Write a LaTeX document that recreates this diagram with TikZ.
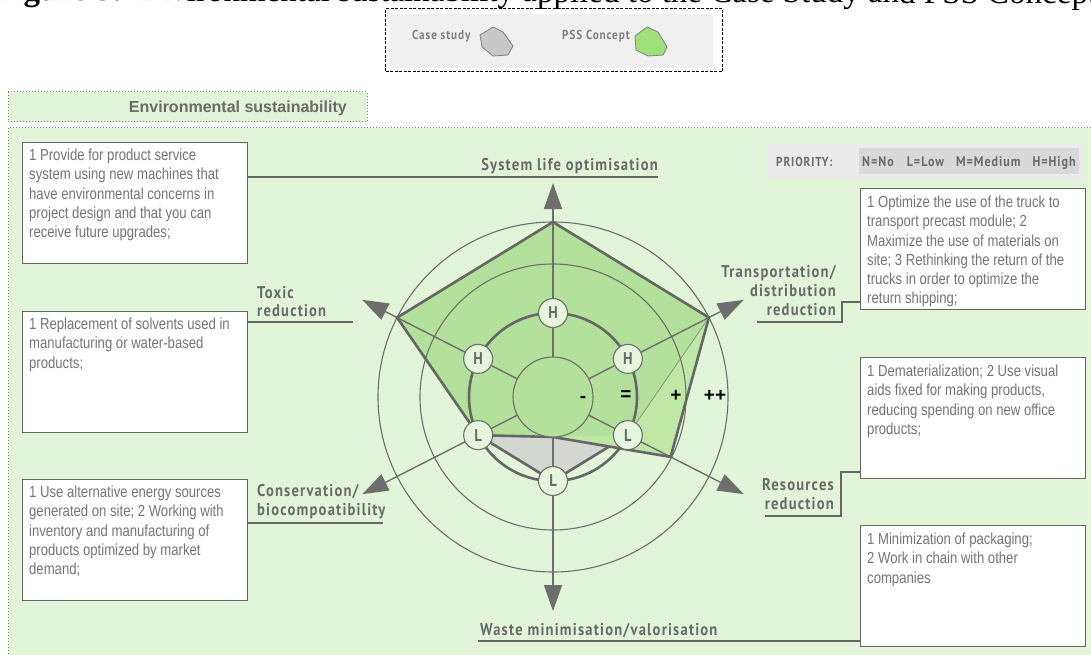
\documentclass[tikz,border=0pt]{standalone}
\usepackage{fontspec}
\setmainfont{Liberation Sans}
\newfontfamily\boxfont[FakeStretch=0.82]{Liberation Sans}
\newfontfamily\tabfont{Liberation Sans}
\newfontfamily\lblfont[FakeStretch=0.86,LetterSpace=7]{PT Sans Bold}
\newfontfamily\capfont{Liberation Serif}
\usetikzlibrary{arrows.meta}
\definecolor{bgg}{HTML}{E3F5D8}
\definecolor{pssd}{HTML}{B3E09A}
\definecolor{pssl}{HTML}{BFE8A7}
\definecolor{csg}{HTML}{D3D6D1}
\definecolor{lineg}{HTML}{666666}
\definecolor{thing}{HTML}{6E6E6E}
\definecolor{txtg}{HTML}{757575}
\definecolor{lblg}{HTML}{6A6A6A}
\definecolor{nodef}{HTML}{E6F6DC}
\definecolor{legf}{HTML}{F0F0F0}
\definecolor{prio1}{HTML}{EBEBEB}
\definecolor{prio2}{HTML}{D9D9D9}
\definecolor{legg}{HTML}{9EE07A}
\definecolor{legc}{HTML}{C8C8C8}
\tikzset{
  tbox/.style={draw=lineg, line width=1.2pt, fill=white, minimum width=225pt, minimum height=121pt, anchor=north west, inner sep=0pt},
  btext/.style={anchor=north west, align=left, inner sep=0pt, font=\boxfont\fontsize{16}{19.2}\selectfont, text=txtg},
  lbl/.style={font=\lblfont\fontsize{17}{19}\selectfont, text=lblg, inner sep=0pt},
  lead/.style={draw=lineg, line width=1.2pt},
  axisline/.style={draw=thing, line width=1.4pt, -{Triangle[length=26pt,width=18pt]}},
  ring/.style={draw=thing, line width=1.1pt},
  poly/.style={draw=lineg, line width=2.6pt, line join=round},
  lev/.style={circle, draw=thing, line width=1.1pt, fill=nodef, minimum size=29pt, inner sep=0pt, font=\lblfont\fontsize{17}{17}\selectfont, text=lblg},
  sym/.style={font=\bfseries\fontsize{19}{19}\selectfont, text=black, inner sep=0pt},
  dots/.style={draw=gray, line width=1pt, dash pattern=on 1pt off 2pt}
}
\begin{document}
\begin{tikzpicture}[x=1pt,y=-1pt]
\useasboundingbox (0,0) rectangle (1091,655);
\clip (0,0) rectangle (1091,655);
\fill[white] (0,0) rectangle (1091,655);
% caption (clipped at the top edge)
\node[anchor=base west, inner sep=0pt, rotate=-0.16, font=\capfont\fontsize{33}{36}\selectfont] (cap) at (-6,0.5) {\textbf{Figure 5:} Environmental sustainability applied to the Case Study and PSS Concept};
% legend
\node[draw=black, line width=1.3pt, dash pattern=on 3pt off 1.5pt, fill=white, minimum width=337pt, minimum height=63pt, anchor=north west, inner sep=0pt] (legend) at (385,8) {};
\fill[legf] (390,14) rectangle (713,68);
\node[lbl, font=\lblfont\fontsize{13}{14}\selectfont, text=gray, anchor=base west] (lcase) at (412,40) {Case study};
\draw[fill=legc, draw=gray, line width=0.8pt] (480,35) -- (493,27) -- (503,32) -- (513,46) -- (508,55) -- (493,56) -- (482,47) -- cycle;
\node[lbl, font=\lblfont\fontsize{13}{14}\selectfont, text=gray, anchor=base west] (lpss) at (562,40) {PSS Concept};
\draw[fill=legg, draw=gray, line width=0.8pt] (635,36) -- (647,27) -- (658,32) -- (667,47) -- (663,55) -- (648,56) -- (636,50) -- cycle;
% tab and panel
\fill[bgg] (8,92) rectangle (367,122);
\draw[dots] (8,92) rectangle (367,122);
\node[anchor=base east, inner sep=0pt, font=\tabfont\bfseries\fontsize{16}{16}\selectfont, text=lblg] (tab) at (347,113) {Environmental sustainability};
\fill[bgg] (8,128) rectangle (1095,660);
\draw[dots] (8,660) -- (8,128) -- (1095,128);
% boxes
\node[tbox] (b1) at (22,142) {};
\node[btext] (t1) at (29,149) {1 Provide for product service\\system using new machines that\\have environmental concerns in\\project design and that you can\\receive future upgrades;};
\node[tbox] (b2) at (22,311) {};
\node[btext] (t2) at (29,318) {1 Replacement of solvents used in\\manufacturing or water-based\\products;};
\node[tbox] (b3) at (22,479) {};
\node[btext] (t3) at (29,486) {1 Use alternative energy sources\\generated on site; 2 Working with\\inventory and manufacturing of\\products optimized by market\\demand;};
\node[tbox] (r1) at (860,188) {};
\node[btext] (tr1) at (867,196) {1 Optimize the use of the truck to\\transport precast module; 2\\Maximize the use of materials on\\site; 3 Rethinking the return of the\\trucks in order to optimize the\\return shipping;};
\node[tbox] (r2) at (860,357) {};
\node[btext] (tr2) at (867,365) {1 Dematerialization; 2 Use visual\\aids fixed for making products,\\reducing spending on new office\\products;};
\node[tbox] (r3) at (860,525) {};
\node[btext] (tr3) at (867,533) {1 Minimization of packaging;\\2 Work in chain with other\\companies};
% priority
\fill[prio1] (767,143) rectangle (1083,179);
\fill[prio2] (859,148) rectangle (1079,174);
\node[lbl, font=\lblfont\fontsize{13}{14}\selectfont, anchor=base west] (prio) at (776,167) {PRIORITY:};
\node[lbl, font=\lblfont\fontsize{14}{14}\selectfont, anchor=base west] (prioval) at (862,167) {N=No\hspace{13pt}L=Low\hspace{12pt}M=Medium\hspace{12pt}H=High};
% leader coordinates
\coordinate (sl) at (658,177);
\coordinate (tx) at (353,322);
\coordinate (cn) at (383,523);
\coordinate (tr) at (757,322);
\coordinate (trj) at (842,302);
\coordinate (rs) at (765,516);
\coordinate (rsj) at (841,472);
\coordinate (ws) at (478,641);
\draw[lead] (b1.east |- sl) -- (sl);
\draw[lead] (b2.east |- tx) -- (tx);
\draw[lead] (b3.east |- cn) -- (cn);
\draw[lead] (tr) -| (trj) -- (r1.west |- trj);
\draw[lead] (rs) -| (rsj) -- (r2.west |- rsj);
\draw[lead] (ws) -- (r3.west |- ws);
% labels
\node[lbl, anchor=base east] (lsys) at (658,171) {System life optimisation};
\node[lbl, anchor=base west] (ltox) at (257,298) {Toxic};
\node[lbl, anchor=base west] (ltox2) at (257,316) {reduction};
\node[lbl, anchor=base west] (lcon) at (257,496) {Conservation/};
\node[lbl, anchor=base west] (lcon2) at (257,515) {biocompoatibility};
\node[lbl, anchor=base east] (ltra) at (836,277) {Transportation/};
\node[lbl, anchor=base east] (ltra2) at (836,296) {distribution};
\node[lbl, anchor=base east] (ltra3) at (836,315) {reduction};
\node[lbl, anchor=base east] (lres) at (834,490) {Resources};
\node[lbl, anchor=base east] (lres2) at (834,509) {reduction};
\node[lbl, anchor=base west] (lwas) at (480,635) {Waste minimisation/valorisation};
% radar
\begin{scope}[shift={(553,397)}, y=1pt]
  \coordinate (c) at (0,0);
  % case study hexagon
  \draw[poly, fill=csg] (90:84) -- (27:84) -- (-27:84) -- (-90:84) -- (-153:84) -- (153:84) -- cycle;
  % PSS polygon
  \fill[pssl] (90:175) -- (27:175) -- (-27:132) -- (-90:40) -- (-153:84) -- (153:175) -- cycle;
  \fill[pssd] (90:175) -- (27:175) -- (-27:84) -- (-90:40) -- (-153:84) -- (153:175) -- cycle;
  \draw[draw=lineg!60!pssd, line width=0.8pt] (-27:84) -- (27:175);
  % rings
  \draw[ring] (c) circle (133);
  \draw[ring] (c) circle (175);
  \draw[draw=lineg, line width=2.6pt] (c) circle (84);
  % axes
  \foreach \a in {90,27,-27,-90,-153,153} {
    \draw[axisline] (c) -- (\a:214);
  }
  % PSS border
  \draw[poly] (90:175) -- (27:175) -- (-27:132) -- (-90:40) -- (-153:84) -- (153:175) -- cycle;
  % inner circle
  \draw[ring, fill=pssd] (c) circle (40);
  % level nodes
  \node[lev] (h1) at (90:84) {H};
  \node[lev] (h2) at (153:84) {H};
  \node[lev] (h3) at (27:84) {H};
  \node[lev] (l1) at (-153:84) {L};
  \node[lev] (l2) at (-90:84) {L};
  \node[lev] (l3) at (-27:84) {L};
  % scale symbols
  \node[sym] (s1) at (30,-2) {-};
  \node[sym] (s2) at (73,1) {=};
  \node[sym] (s3) at (123,1) {+};
  \node[sym] (s4) at (162,1) {++};
\end{scope}
\end{tikzpicture}
\end{document}
